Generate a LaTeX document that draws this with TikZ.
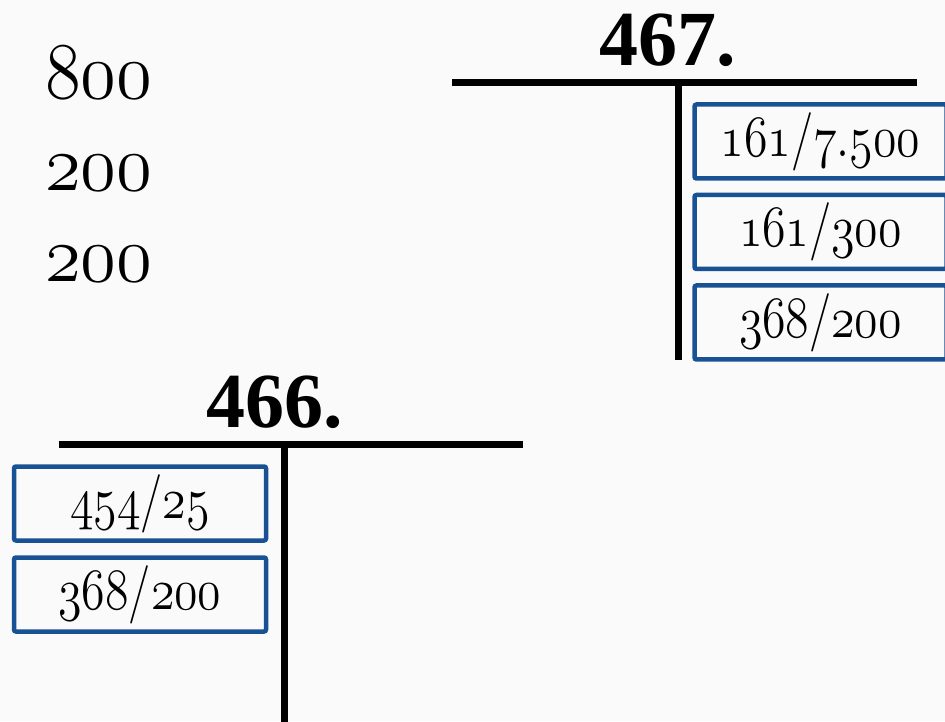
\documentclass[tikz,border=0pt]{standalone}
\usepackage{fix-cm}
\usepackage{graphicx}
\usepackage{fontspec}
\newfontfamily\headfont{Liberation Serif}
\usetikzlibrary{positioning}
\definecolor{boxblue}{RGB}{24,82,148}
\definecolor{paper}{RGB}{250,250,250}
\newcommand{\osnum}[2][1.15]{\scalebox{1}[#1]{$\mathnormal{#2}$}}

\begin{document}
\begin{tikzpicture}[x=1pt, y=1pt,
		entry/.style={minimum width=252pt, minimum height=74pt, inner sep=0pt, rounded corners=2pt, line width=4.5pt, draw=boxblue, font=\fontsize{48}{50}\selectfont},
		acctno/.style={anchor=base, inner sep=0pt, font=\headfont\bfseries\fontsize{78}{80}\selectfont},
		amount/.style={anchor=base west, inner sep=0pt, font=\fontsize{73}{75}\selectfont},
		tline/.style={line width=7pt}]
		
		\fill[paper] (0,0) rectangle (945,721);
		\useasboundingbox (0,0) rectangle (945,721);
		
		% amounts on the left
		\node (a1) at (45,622) [amount] {\osnum[1.1]{800}};
		\node (a2) at (45,530) [amount] {\osnum[1.1]{200}};
		\node (a3) at (45,439) [amount] {\osnum[1.1]{200}};
		
		% account 467
		\node (h467) at (668,655) [acctno] {467.};
		\coordinate (t467l) at (452,638);
		\coordinate (t467r) at (917,638);
		\coordinate (t467m) at (678,638);
		\coordinate (t467b) at (678,361);
		\draw[tline] (t467l) -- (t467r);
		\draw[tline] (t467m) -- (t467b);
		
		\node (c1) at (820.5,579.5) [entry] {\osnum[1.22]{161/7.500}};
		\node (c2) [entry, below of=c1, node distance=90.5pt] {\osnum[1.22]{161/300}};
		\node (c3) [entry, below of=c2, node distance=90.5pt] {\osnum[1.22]{368/200}};
		
		% account 466
		\node (h466) at (275,294) [acctno] {466.};
		\coordinate (t466l) at (59,276);
		\coordinate (t466r) at (523,276);
		\coordinate (t466m) at (284,276);
		\coordinate (t466b) at (284,-5);
		\draw[tline] (t466l) -- (t466r);
		\draw[tline] (t466m) -- (t466b);
		
		\node (d1) at (140,217.5) [entry] {\osnum[1.22]{454/25}};
		\node (d2) [entry, below of=d1, node distance=91pt] {\osnum[1.22]{368/200}};
		
	\end{tikzpicture}
\end{document}
